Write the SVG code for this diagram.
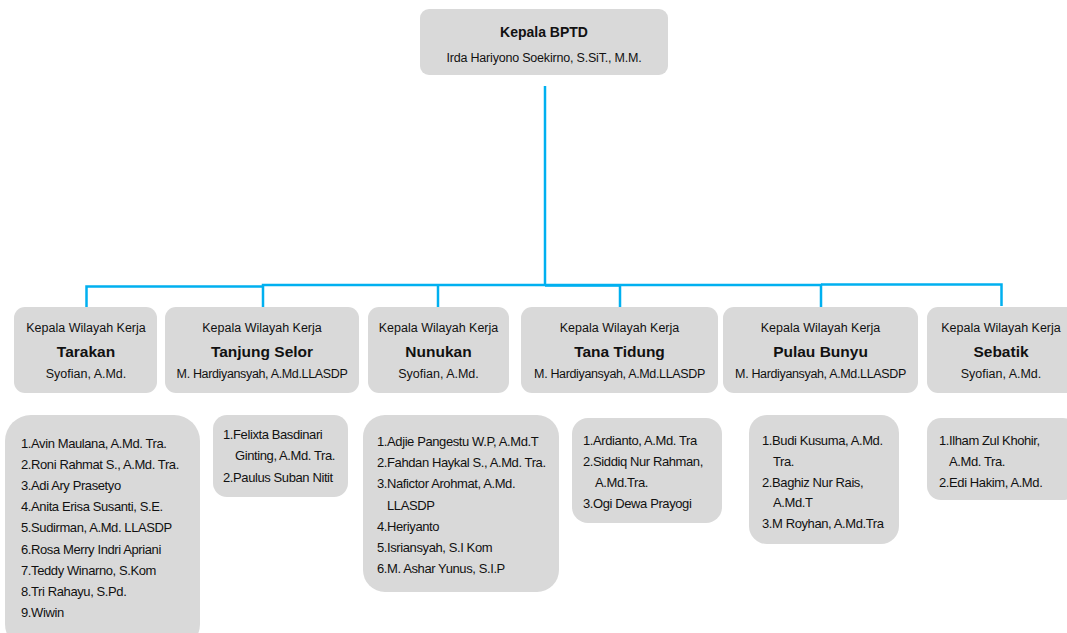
<svg xmlns="http://www.w3.org/2000/svg" width="1067" height="633" viewBox="0 0 1067 633">
<style>
.box{fill:#D9D9D9}
text{font-family:"Liberation Sans",Arial,sans-serif;fill:#111}
.c{text-anchor:middle}
.t1{font-size:12.5px}
.t2{font-size:12.5px;letter-spacing:-0.35px}
.t0{font-size:12.5px;letter-spacing:-0.2px}
.tb{font-size:15.5px;font-weight:bold}
.tt{font-size:14px;font-weight:bold}
.li{font-size:13px;letter-spacing:-0.4px}
.con{fill:none;stroke:#00B0F0;stroke-width:2.5}
</style>
<rect width="1067" height="633" fill="#FFFFFF"/>
<g id="connectors">
<path class="con" d="M545 86 V285.5"/>
<path class="con" d="M86.5 308 V286.5 H263"/>
<path class="con" d="M263 308 V285 H545"/>
<path class="con" d="M438 307 V285"/>
<path class="con" d="M545 285.5 H620 V308"/>
<path class="con" d="M545 285 H821 V307"/>
<path class="con" d="M821 284.5 H1001.5 V306"/>
</g>
<g id="kepala-bptd">
<rect class="box" x="420" y="9" width="248" height="66" rx="9"/>
<text class="c tt" x="544" y="37">Kepala BPTD</text>
<text class="c t0" x="544" y="62">Irda Hariyono Soekirno, S.SiT., M.M.</text>
</g>
<g id="wk-tarakan">
<rect class="box" x="14" y="307" width="143" height="86" rx="11"/>
<text class="c t1" x="86" y="332">Kepala Wilayah Kerja</text>
<text class="c tb" x="86" y="357">Tarakan</text>
<text class="c t1" x="86" y="378">Syofian, A.Md.</text>
</g>
<g id="wk-tanjung-selor">
<rect class="box" x="165" y="307" width="194" height="86" rx="11"/>
<text class="c t1" x="262" y="332">Kepala Wilayah Kerja</text>
<text class="c tb" x="262" y="357">Tanjung Selor</text>
<text class="c t2" x="262" y="378">M. Hardiyansyah, A.Md.LLASDP</text>
</g>
<g id="wk-nunukan">
<rect class="box" x="368" y="307" width="141" height="86" rx="11"/>
<text class="c t1" x="438.5" y="332">Kepala Wilayah Kerja</text>
<text class="c tb" x="438.5" y="357">Nunukan</text>
<text class="c t1" x="438.5" y="378">Syofian, A.Md.</text>
</g>
<g id="wk-tana-tidung">
<rect class="box" x="521" y="307" width="197" height="86" rx="11"/>
<text class="c t1" x="619.5" y="332">Kepala Wilayah Kerja</text>
<text class="c tb" x="619.5" y="357">Tana Tidung</text>
<text class="c t2" x="619.5" y="378">M. Hardiyansyah, A.Md.LLASDP</text>
</g>
<g id="wk-pulau-bunyu">
<rect class="box" x="723" y="307" width="195" height="86" rx="11"/>
<text class="c t1" x="820.5" y="332">Kepala Wilayah Kerja</text>
<text class="c tb" x="820.5" y="357">Pulau Bunyu</text>
<text class="c t2" x="820.5" y="378">M. Hardiyansyah, A.Md.LLASDP</text>
</g>
<g id="wk-sebatik">
<rect class="box" x="927" y="307" width="150" height="86" rx="11"/>
<text class="c t1" x="1001" y="332">Kepala Wilayah Kerja</text>
<text class="c tb" x="1001" y="357">Sebatik</text>
<text class="c t1" x="1001" y="378">Syofian, A.Md.</text>
</g>
<g id="staff-tarakan">
<rect class="box" x="5" y="415" width="195" height="235" rx="26"/>
<text class="li" x="21" y="448">1.Avin Maulana, A.Md. Tra.</text>
<text class="li" x="21" y="469">2.Roni Rahmat S., A.Md. Tra.</text>
<text class="li" x="21" y="490">3.Adi Ary Prasetyo</text>
<text class="li" x="21" y="511">4.Anita Erisa Susanti, S.E.</text>
<text class="li" x="21" y="532">5.Sudirman, A.Md. LLASDP</text>
<text class="li" x="21" y="554">6.Rosa Merry Indri Apriani</text>
<text class="li" x="21" y="575">7.Teddy Winarno, S.Kom</text>
<text class="li" x="21" y="596">8.Tri Rahayu, S.Pd.</text>
<text class="li" x="21" y="617">9.Wiwin</text>
</g>
<g id="staff-tanjung-selor">
<rect class="box" x="213" y="415" width="135" height="82" rx="14"/>
<text class="li" x="223" y="439">1.Felixta Basdinari</text>
<text class="li" x="235" y="460">Ginting, A.Md. Tra.</text>
<text class="li" x="223" y="482">2.Paulus Suban Nitit</text>
</g>
<g id="staff-nunukan">
<rect class="box" x="363" y="415" width="196" height="177" rx="22"/>
<text class="li" x="377" y="446">1.Adjie Pangestu W.P, A.Md.T</text>
<text class="li" x="377" y="467">2.Fahdan Haykal S., A.Md. Tra.</text>
<text class="li" x="377" y="488">3.Nafictor Arohmat, A.Md.</text>
<text class="li" x="387" y="510">LLASDP</text>
<text class="li" x="377" y="531">4.Heriyanto</text>
<text class="li" x="377" y="552">5.Isriansyah, S.I Kom</text>
<text class="li" x="377" y="573">6.M. Ashar Yunus, S.I.P</text>
</g>
<g id="staff-tana-tidung">
<rect class="box" x="572" y="418" width="150" height="105" rx="16"/>
<text class="li" x="583" y="445">1.Ardianto, A.Md. Tra</text>
<text class="li" x="583" y="466">2.Siddiq Nur Rahman,</text>
<text class="li" x="595" y="487">A.Md.Tra.</text>
<text class="li" x="583" y="508">3.Ogi Dewa Prayogi</text>
</g>
<g id="staff-pulau-bunyu">
<rect class="box" x="749" y="415" width="150" height="129" rx="18"/>
<text class="li" x="762" y="445">1.Budi Kusuma, A.Md.</text>
<text class="li" x="773" y="466">Tra.</text>
<text class="li" x="762" y="487">2.Baghiz Nur Rais,</text>
<text class="li" x="773" y="507">A.Md.T</text>
<text class="li" x="762" y="528">3.M Royhan, A.Md.Tra</text>
</g>
<g id="staff-sebatik">
<rect class="box" x="927" y="418" width="150" height="82" rx="14"/>
<text class="li" x="939" y="445">1.Ilham Zul Khohir,</text>
<text class="li" x="949" y="466">A.Md. Tra.</text>
<text class="li" x="939" y="487">2.Edi Hakim, A.Md.</text>
</g>
</svg>
